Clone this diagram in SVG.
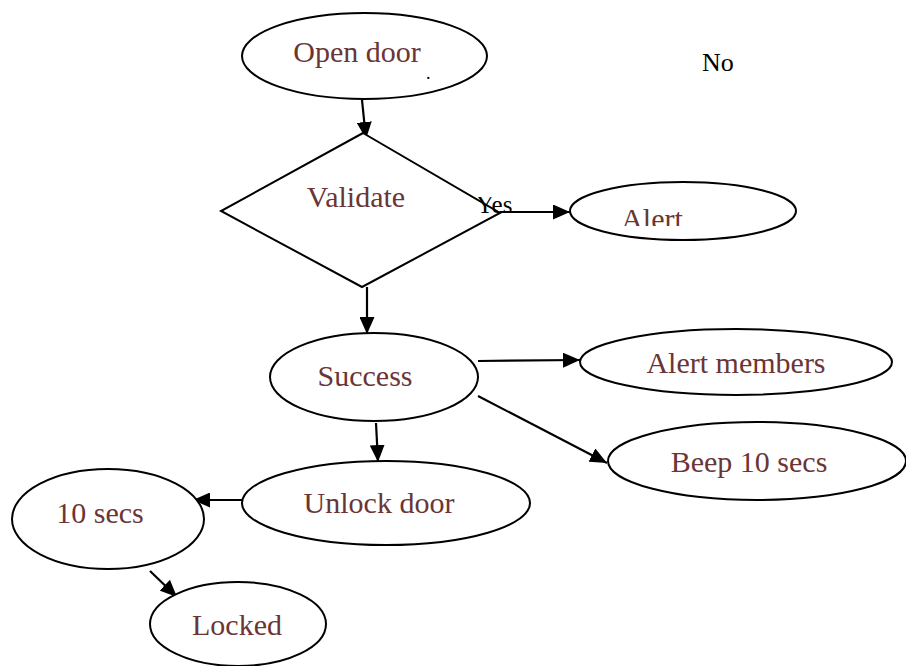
<svg xmlns="http://www.w3.org/2000/svg" width="906" height="666" viewBox="0 0 906 666">
  <style>
    .shape { fill: #ffffff; stroke: #000000; stroke-width: 2; }
    .label { font-family: "Liberation Serif", "Times New Roman", serif; font-size: 30px; fill: #6b3535; text-anchor: middle; }
    .note { font-family: "Liberation Serif", "Times New Roman", serif; fill: #000000; }
    .edge { stroke: #000000; stroke-width: 2.2; fill: none; marker-end: url(#arrow); }
  </style>
  <defs>
    <marker id="arrow" markerUnits="userSpaceOnUse" markerWidth="17" markerHeight="15" viewBox="0 0 17 15" refX="17" refY="7.5" orient="auto">
      <path d="M0,0 L17,7.5 L0,15 Z" fill="#000000"/>
    </marker>
    <clipPath id="clipAlert"><rect x="560" y="180" width="240" height="46"/></clipPath>
    <clipPath id="clipYes"><rect x="470" y="197" width="60" height="30"/></clipPath>
  </defs>
  <rect width="906" height="666" fill="#ffffff"/>

  <g id="connectors">
    <line class="edge" x1="362" y1="100" x2="366" y2="139"/>
    <line class="edge" x1="500" y1="212" x2="570" y2="212"/>
    <line class="edge" x1="367" y1="287" x2="367" y2="334"/>
    <line class="edge" x1="478" y1="361" x2="580" y2="360"/>
    <line class="edge" x1="478" y1="396" x2="607" y2="463"/>
    <line class="edge" x1="376" y1="423" x2="378" y2="462"/>
    <line class="edge" x1="242" y1="500" x2="193" y2="500"/>
    <line class="edge" x1="150" y1="571" x2="177" y2="597"/>
  </g>

  <g id="open-door">
    <ellipse class="shape" cx="364.5" cy="56" rx="122.5" ry="43"/>
    <text class="label" x="357" y="62">Open door</text>
    <text class="note" x="426" y="79" font-size="18">.</text>
  </g>

  <g id="validate">
    <polygon class="shape" points="363,133 500,213 362,287 221,211"/>
    <text class="label" x="356" y="207">Validate</text>
  </g>

  <g id="yes-label">
    <text class="note" x="476" y="213" font-size="25" clip-path="url(#clipYes)">Yes</text>
  </g>

  <g id="no-label">
    <text class="note" x="702" y="71" font-size="26">No</text>
  </g>

  <g id="alert">
    <ellipse class="shape" cx="683" cy="211" rx="113" ry="29"/>
    <text class="label" x="652" y="229" clip-path="url(#clipAlert)">Alert</text>
  </g>

  <g id="success">
    <ellipse class="shape" cx="374" cy="377" rx="104" ry="44"/>
    <text class="label" x="365" y="386">Success</text>
  </g>

  <g id="alert-members">
    <ellipse class="shape" cx="736" cy="362" rx="156" ry="33"/>
    <text class="label" x="736" y="373">Alert members</text>
  </g>

  <g id="beep">
    <ellipse class="shape" cx="757" cy="461" rx="149" ry="39"/>
    <text class="label" x="749" y="472">Beep 10 secs</text>
  </g>

  <g id="unlock-door">
    <ellipse class="shape" cx="386" cy="503" rx="144" ry="42"/>
    <text class="label" x="379" y="513">Unlock door</text>
  </g>

  <g id="ten-secs">
    <ellipse class="shape" cx="108" cy="519" rx="96" ry="50"/>
    <text class="label" x="100" y="523">10 secs</text>
  </g>

  <g id="locked">
    <ellipse class="shape" cx="238" cy="624" rx="88" ry="42"/>
    <text class="label" x="237" y="635">Locked</text>
  </g>
</svg>
